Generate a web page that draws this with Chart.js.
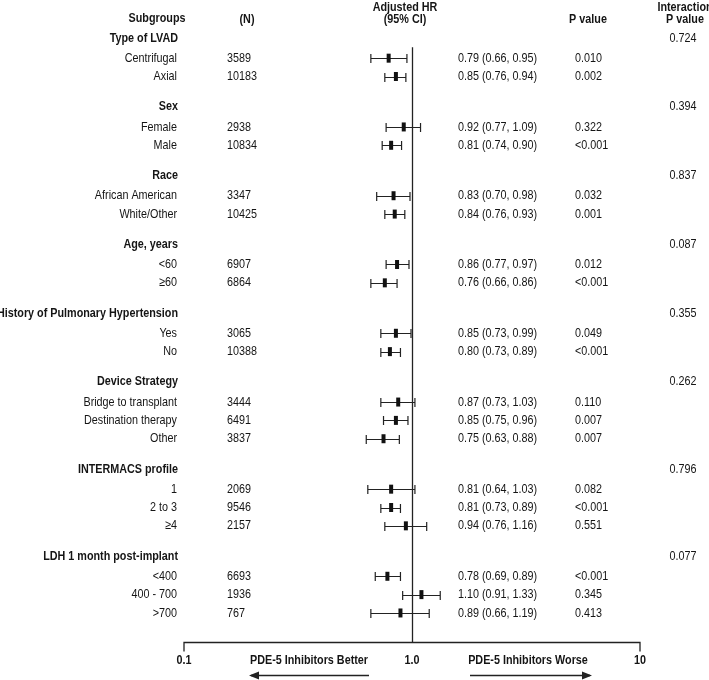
<!DOCTYPE html>
<html>
<head>
<meta charset="utf-8">
<script src="https://cdn.jsdelivr.net/npm/chart.js@4.4.1/dist/chart.umd.min.js"></script>
<style>
  html, body { margin: 0; padding: 0; background: #fff; }
  #wrap { width: 709px; height: 680px; position: relative; }
</style>
</head>
<body>
<div id="wrap"><canvas id="forest"></canvas></div>
<script>
// groups and their interaction p values
const groupNames = ["Type of LVAD", "Sex", "Race", "Age, years", "History of Pulmonary Hypertension",
  "Device Strategy", "INTERMACS profile", "LDH 1 month post-implant"];
const interactionP = ["0.724", "0.394", "0.837", "0.087", "0.355", "0.262", "0.796", "0.077"];

// subgroup rows
const itemGroup = [0, 0, 1, 1, 2, 2, 3, 3, 4, 4, 5, 5, 5, 6, 6, 6, 7, 7, 7];
const itemLabels = ["Centrifugal", "Axial", "Female", "Male", "African American", "White/Other",
  "<60", "\u226560", "Yes", "No", "Bridge to transplant", "Destination therapy", "Other",
  "1", "2 to 3", "\u22654", "<400", "400 - 700", ">700"];
const itemN = ["3589", "10183", "2938", "10834", "3347", "10425", "6907", "6864", "3065", "10388",
  "3444", "6491", "3837", "2069", "9546", "2157", "6693", "1936", "767"];
const hr = [0.79, 0.85, 0.92, 0.81, 0.83, 0.84, 0.86, 0.76, 0.85, 0.80, 0.87, 0.85, 0.75, 0.81, 0.81, 0.94, 0.78, 1.10, 0.89];
const lower = [0.66, 0.76, 0.77, 0.74, 0.70, 0.76, 0.77, 0.66, 0.73, 0.73, 0.73, 0.75, 0.63, 0.64, 0.73, 0.76, 0.69, 0.91, 0.66];
const upper = [0.95, 0.94, 1.09, 0.90, 0.98, 0.93, 0.97, 0.86, 0.99, 0.89, 1.03, 0.96, 0.88, 1.03, 0.89, 1.16, 0.89, 1.33, 1.19];
const pValues = ["0.010", "0.002", "0.322", "<0.001", "0.032", "0.001", "0.012", "<0.001", "0.049", "<0.001",
  "0.110", "0.007", "0.007", "0.082", "<0.001", "0.551", "<0.001", "0.345", "0.413"];

// x axis labels
const xTickValues = [0.1, 1, 10];
const xTickLabels = ["0.1", "1.0", "10"];

// work out row positions (in row units) from the group structure
const headerRow = [];
const itemRow = [];
let pos = 0;
groupNames.forEach((g, gi) => {
  headerRow[gi] = pos;
  pos += 1.1;
  itemGroup.forEach((ig, i) => {
    if (ig === gi) { itemRow[i] = pos; pos += 1; }
  });
  pos += 0.65;
});

const FONT = "'Liberation Sans', Arial, sans-serif";
const INK = "#151515";
const SQUEEZE = 0.83; // the original uses a narrow face

// narrow text: squeeze a normal face horizontally
function txt(ctx, s, x, y, align, bold) {
  ctx.save();
  ctx.translate(x, y);
  ctx.scale(SQUEEZE, 1);
  ctx.font = (bold ? "bold " : "") + "13px " + FONT;
  ctx.textAlign = align;
  ctx.textBaseline = "middle";
  ctx.fillStyle = INK;
  ctx.fillText(s, 0, 0);
  ctx.restore();
}

// whiskers go under the point markers
const whiskers = {
  id: "whiskers",
  beforeDatasetsDraw(chart) {
    const { ctx, scales: { x, y } } = chart;
    ctx.save();
    ctx.strokeStyle = "#222";
    ctx.lineWidth = 1.2;
    hr.forEach((v, i) => {
      const yy = Math.round(y.getPixelForValue(itemRow[i])) + 0.5;
      const x0 = x.getPixelForValue(lower[i]);
      const x1 = x.getPixelForValue(upper[i]);
      ctx.beginPath();
      ctx.moveTo(x0, yy); ctx.lineTo(x1, yy);
      ctx.moveTo(x0, yy - 4.5); ctx.lineTo(x0, yy + 4.5);
      ctx.moveTo(x1, yy - 4.5); ctx.lineTo(x1, yy + 4.5);
      ctx.stroke();
    });
    ctx.restore();
  }
};

// text columns, reference line, axis and arrows
const decorations = {
  id: "decorations",
  afterDraw(chart) {
    const { ctx, chartArea, scales: { x, y } } = chart;
    const axisY = Math.round(chartArea.bottom) + 0.5;
    const xOne = Math.round(x.getPixelForValue(1)) + 0.5;
    ctx.save();

    // reference line at HR = 1
    ctx.strokeStyle = "#222";
    ctx.lineWidth = 1.3;
    ctx.beginPath();
    ctx.moveTo(xOne, y.getPixelForValue(0.5));
    ctx.lineTo(xOne, axisY);
    ctx.stroke();

    // bottom axis, ends turn down
    const xl = x.getPixelForValue(0.1), xr = x.getPixelForValue(10);
    ctx.beginPath();
    ctx.moveTo(xl, axisY + 9); ctx.lineTo(xl, axisY);
    ctx.lineTo(xr, axisY); ctx.lineTo(xr, axisY + 9);
    ctx.stroke();

    // column headers
    txt(ctx, "Subgroups", 157, 18, "center", true);
    txt(ctx, "(N)", 247, 19, "center", true);
    txt(ctx, "Adjusted HR", 405, 7, "center", true);
    txt(ctx, "(95% CI)", 405, 19, "center", true);
    txt(ctx, "P value", 588, 19, "center", true);
    txt(ctx, "Interaction", 685, 7, "center", true);
    txt(ctx, "P value", 685, 19, "center", true);

    // group rows
    groupNames.forEach((g, gi) => {
      const yy = y.getPixelForValue(headerRow[gi]);
      txt(ctx, g, 178, yy, "right", true);
      txt(ctx, interactionP[gi], 683, yy, "center", false);
    });

    // subgroup rows
    itemLabels.forEach((lab, i) => {
      const yy = y.getPixelForValue(itemRow[i]);
      txt(ctx, lab, 177, yy, "right", false);
      txt(ctx, itemN[i], 227, yy, "left", false);
      txt(ctx, hr[i].toFixed(2) + " (" + lower[i].toFixed(2) + ", " + upper[i].toFixed(2) + ")", 458, yy, "left", false);
      txt(ctx, pValues[i], 575, yy, "left", false);
    });

    // x tick labels and direction notes
    xTickValues.forEach((v, i) => txt(ctx, xTickLabels[i], x.getPixelForValue(v), axisY + 18, "center", true));
    txt(ctx, "PDE-5 Inhibitors Better", 309, axisY + 18, "center", true);
    txt(ctx, "PDE-5 Inhibitors Worse", 528, axisY + 18, "center", true);

    // arrows
    const ay = axisY + 33;
    ctx.lineWidth = 1.3;
    ctx.beginPath();
    ctx.moveTo(251, ay); ctx.lineTo(369, ay);
    ctx.moveTo(470, ay); ctx.lineTo(590, ay);
    ctx.stroke();
    ctx.beginPath();
    ctx.moveTo(249, ay); ctx.lineTo(259, ay - 4); ctx.lineTo(259, ay + 4); ctx.closePath();
    ctx.moveTo(592, ay); ctx.lineTo(582, ay - 4); ctx.lineTo(582, ay + 4); ctx.closePath();
    ctx.fillStyle = "#222";
    ctx.fill();

    ctx.restore();
  }
};

const rowPx = 18.34;
const yMin = -18 / rowPx;

new Chart(document.getElementById("forest"), {
  type: "scatter",
  data: {
    datasets: [{
      data: hr.map((v, i) => ({ x: v, y: itemRow[i] })),
      pointStyle: "line",
      rotation: 90,
      radius: 4.5,
      hoverRadius: 4.5,
      borderWidth: 4,
      borderColor: "#111",
      backgroundColor: "#111"
    }]
  },
  options: {
    responsive: true,
    maintainAspectRatio: false,
    animation: false,
    events: [],
    layout: { padding: { left: 184, right: 69, top: 20, bottom: 38 } },
    scales: {
      x: { type: "logarithmic", min: 0.1, max: 10, display: false },
      y: { type: "linear", reverse: true, min: yMin, max: yMin + 622 / rowPx, display: false }
    },
    plugins: { legend: { display: false }, tooltip: { enabled: false } }
  },
  plugins: [whiskers, decorations]
});
</script>
</body>
</html>
